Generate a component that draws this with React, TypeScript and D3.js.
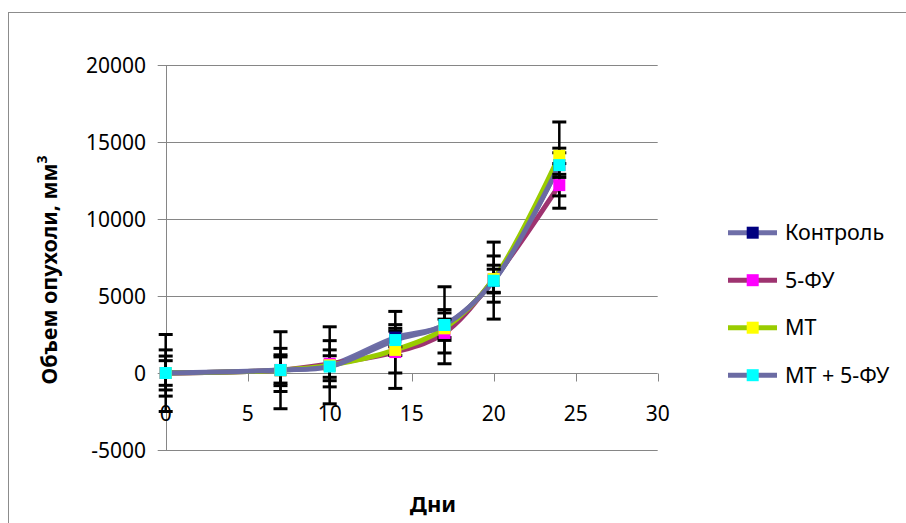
import React, { useRef, useEffect } from "react";
import * as d3 from "d3";

// days of measurement
const days = [0, 7, 10, 14, 17, 20, 24];

// tumour volume, mm3
const control = [0, 180, 500, 2300, 3100, 6000, 13500];
const fu5 = [0, 200, 600, 1360, 2600, 6100, 12200];
const mt = [0, 180, 500, 1500, 2900, 6100, 14100];
const mtFu = [0, 195, 420, 2140, 3117, 5990, 13500];

// error (+/-) per point
const controlErr = [2500, 2500, 2500, 600, 2500, 2500, 2800];
const fu5Err = [1500, 1400, 1500, 1360, 1300, 1500, 700];
const mtErr = [1100, 1000, 1000, 2500, 600, 900, 500];
const mtFuErr = [800, 850, 700, 1000, 1000, 750, 800];

const seriesNames = ["Контроль", "5-ФУ", "МТ", "МТ + 5-ФУ"];
const yTicks = [-5000, 0, 5000, 10000, 15000, 20000];
const xTicks = [0, 5, 10, 15, 20, 25, 30];

const FONT = "'Noto Sans', sans-serif";

function App() {
  const svgRef = useRef(null);

  useEffect(() => {
    const width = 906;
    const height = 523;

    const svg = d3.select(svgRef.current);
    svg.selectAll("*").remove();
    svg.attr("width", width).attr("height", height);

    const series = [
      { name: seriesNames[0], values: control, err: controlErr, line: "#6E6EA8", marker: "#000080" },
      { name: seriesNames[1], values: fu5, err: fu5Err, line: "#9E3370", marker: "#FF00FF" },
      { name: seriesNames[2], values: mt, err: mtErr, line: "#99CC00", marker: "#FFFF00" },
      { name: seriesNames[3], values: mtFu, err: mtFuErr, line: "#6B6BA3", marker: "#00FFFF" },
    ];

    // outer chart border (runs off the picture on right and bottom)
    svg
      .append("rect")
      .attr("x", 8.5)
      .attr("y", 12.5)
      .attr("width", 1000)
      .attr("height", 1000)
      .attr("fill", "white")
      .attr("stroke", "#8c8c8c")
      .attr("stroke-width", 1);

    /* ------------------ SCALES ------------------ */
    const x = d3.scaleLinear().domain([0, 30]).range([165.7, 657.7]);
    const y = d3.scaleLinear().domain([-5000, 20000]).range([450, 65]);

    const chart = svg.append("g");

    /* ------------------ GRID ------------------ */
    chart
      .selectAll(".grid")
      .data(yTicks.filter((t) => t !== 0))
      .enter()
      .append("line")
      .attr("x1", x(0) - 8)
      .attr("x2", x(30))
      .attr("y1", (d) => Math.round(y(d)) + 0.5)
      .attr("y2", (d) => Math.round(y(d)) + 0.5)
      .attr("stroke", "#868686")
      .attr("stroke-width", 1);

    /* ------------------ Y AXIS ------------------ */
    const axisX = Math.round(x(0)) + 0.5;
    chart
      .append("line")
      .attr("x1", axisX)
      .attr("x2", axisX)
      .attr("y1", y(20000))
      .attr("y2", y(-5000))
      .attr("stroke", "#868686");

    chart
      .selectAll(".ytick")
      .data([0])
      .enter()
      .append("line")
      .attr("x1", x(0) - 8)
      .attr("x2", x(0))
      .attr("y1", (d) => Math.round(y(d)) + 0.5)
      .attr("y2", (d) => Math.round(y(d)) + 0.5)
      .attr("stroke", "#868686");

    chart
      .selectAll(".ylabel")
      .data(yTicks)
      .enter()
      .append("text")
      .attr("x", 146)
      .attr("y", (d) => y(d) + 7.5)
      .attr("text-anchor", "end")
      .style("font-family", FONT)
      .style("font-size", "21px")
      .attr("fill", "#000")
      .text((d) => String(d));

    /* ------------------ X AXIS ------------------ */
    const axisY = Math.round(y(0)) + 0.5;
    chart
      .append("line")
      .attr("x1", x(0))
      .attr("x2", x(30))
      .attr("y1", axisY)
      .attr("y2", axisY)
      .attr("stroke", "#868686");

    chart
      .selectAll(".xtick")
      .data(xTicks)
      .enter()
      .append("line")
      .attr("x1", (d) => Math.round(x(d)) + 0.5)
      .attr("x2", (d) => Math.round(x(d)) + 0.5)
      .attr("y1", axisY)
      .attr("y2", axisY + 8)
      .attr("stroke", "#868686");

    /* ------------------ LINES ------------------ */
    const line = d3
      .line<number>()
      .x((d, i) => x(days[i]))
      .y((d) => y(d))
      .curve(d3.curveCatmullRom.alpha(0.5));

    series.forEach((s) => {
      chart
        .append("path")
        .attr("d", line(s.values))
        .attr("fill", "none")
        .attr("stroke", s.line)
        .attr("stroke-width", 5)
        .attr("stroke-linejoin", "round")
        .attr("stroke-linecap", "round");
    });

    /* ------------------ ERROR BARS ------------------ */
    const cap = 7;
    series.forEach((s) => {
      const g = chart.append("g");
      s.values.forEach((v, i) => {
        const cx = x(days[i]);
        const top = y(v + s.err[i]);
        const bot = y(v - s.err[i]);
        g.append("line")
          .attr("x1", cx)
          .attr("x2", cx)
          .attr("y1", top)
          .attr("y2", bot)
          .attr("stroke", "#000")
          .attr("stroke-width", 2.5);
        [top, bot].forEach((yy) => {
          g.append("line")
            .attr("x1", cx - cap)
            .attr("x2", cx + cap)
            .attr("y1", yy)
            .attr("y2", yy)
            .attr("stroke", "#000")
            .attr("stroke-width", 3);
        });
      });
    });

    /* ------------------ MARKERS ------------------ */
    const ms = 12;
    series.forEach((s) => {
      chart
        .append("g")
        .selectAll("rect")
        .data(s.values)
        .enter()
        .append("rect")
        .attr("x", (d, i) => x(days[i]) - ms / 2)
        .attr("y", (d) => y(d) - ms / 2)
        .attr("width", ms)
        .attr("height", ms)
        .attr("fill", s.marker);
    });

    /* ------------------ X LABELS ------------------ */
    chart
      .selectAll(".xlabel")
      .data(xTicks)
      .enter()
      .append("text")
      .attr("x", (d) => x(d))
      .attr("y", 421)
      .attr("text-anchor", "middle")
      .style("font-family", FONT)
      .style("font-size", "21px")
      .attr("fill", "#000")
      .text((d) => String(d));

    /* ------------------ AXIS TITLES ------------------ */
    const yTitle = svg
      .append("text")
      .attr("transform", "translate(57,270) rotate(-90)")
      .attr("text-anchor", "middle")
      .style("font-family", FONT)
      .style("font-size", "21.5px")
      .style("font-weight", "bold")
      .attr("fill", "#000");
    yTitle.append("tspan").text("Объем опухоли, мм");
    yTitle
      .append("tspan")
      .attr("dy", -10)
      .style("font-size", "14px")
      .text("3");

    svg
      .append("text")
      .attr("x", 433)
      .attr("y", 512)
      .attr("text-anchor", "middle")
      .style("font-family", FONT)
      .style("font-size", "22px")
      .style("font-weight", "bold")
      .attr("fill", "#000")
      .text("Дни");

    /* ------------------ LEGEND ------------------ */
    const legend = svg
      .append("g")
      .selectAll("g")
      .data(series)
      .enter()
      .append("g")
      .attr("transform", (d, i) => `translate(0,${232.7 + i * 47.5})`);

    legend
      .append("line")
      .attr("x1", 728)
      .attr("x2", 777)
      .attr("y1", 0)
      .attr("y2", 0)
      .attr("stroke", (d) => d.line)
      .attr("stroke-width", 5);

    legend
      .append("rect")
      .attr("x", 752.7 - ms / 2)
      .attr("y", -ms / 2)
      .attr("width", ms)
      .attr("height", ms)
      .attr("fill", (d) => d.marker);

    legend
      .append("text")
      .attr("x", 785)
      .attr("y", 7.5)
      .style("font-family", FONT)
      .style("font-size", "21.5px")
      .attr("fill", "#000")
      .text((d) => d.name);
  }, []);

  return (
    <div style={{ position: "absolute", left: 0, top: 0, width: 906, height: 523, overflow: "hidden" }}>
      <svg ref={svgRef} style={{ display: "block" }}></svg>
    </div>
  );
}

export default App;
